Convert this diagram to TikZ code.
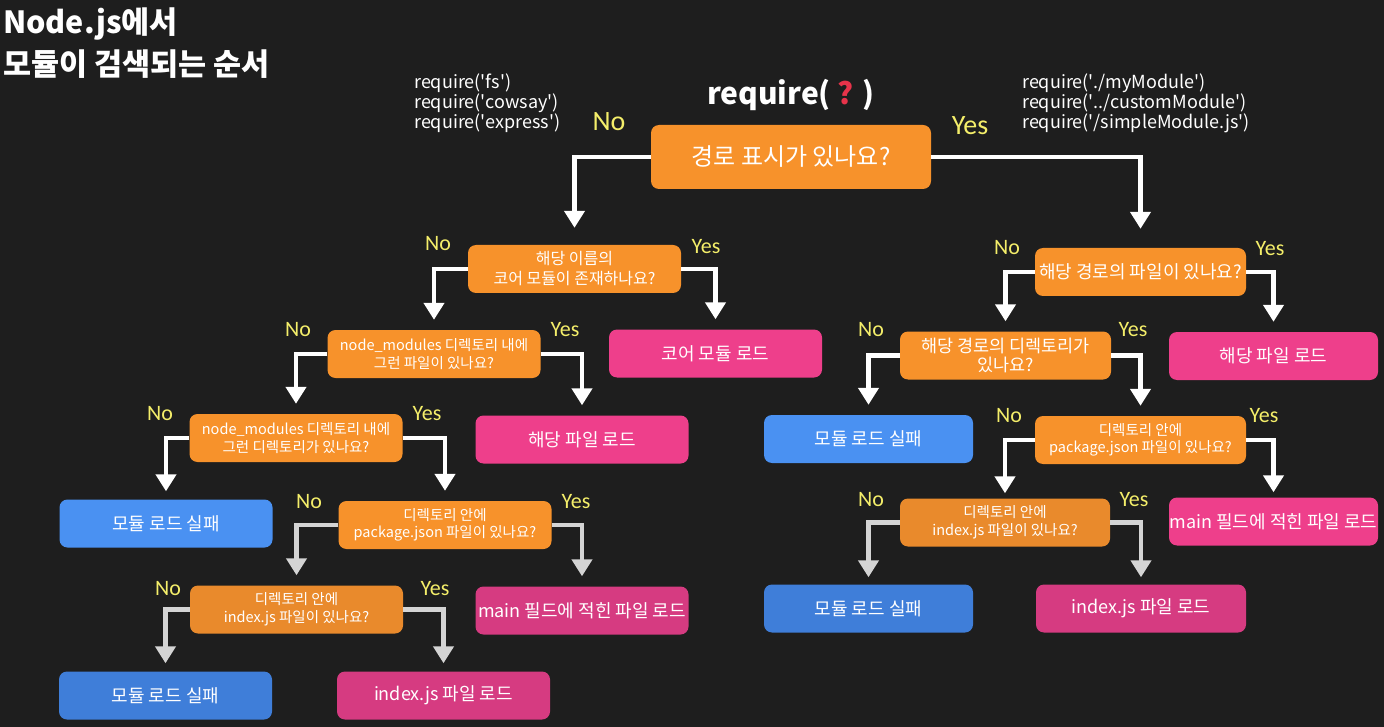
\documentclass[tikz,border=0pt]{standalone}
\usepackage{fontspec}
\setmainfont{Noto Sans CJK KR}
\newfontfamily\lblfont{Carlito}
\usetikzlibrary{arrows.meta}
\definecolor{bg}{HTML}{1E1E1E}
\definecolor{org}{HTML}{F7922B}
\definecolor{orgd}{HTML}{E98A2C}
\definecolor{pnk}{HTML}{EE3F8B}
\definecolor{pnkd}{HTML}{D63B81}
\definecolor{blu}{HTML}{4A91F2}
\definecolor{blud}{HTML}{3F7ED9}
\definecolor{ylw}{HTML}{F4EE6A}
\definecolor{qred}{HTML}{E8334A}
\definecolor{gry}{HTML}{D4D4D4}
\newcommand\myq{\textquotesingle}
\begin{document}
\begin{tikzpicture}[x=1pt,y=-1pt,
  box/.style={rounded corners=8pt, text=white, align=center, inner sep=0pt,
    minimum width=213pt, minimum height=48pt},
  qbox/.style={box, fill=org, font=\fontsize{14.5}{17.5}\selectfont},
  pbox/.style={box, fill=pnk, font=\fontsize{18}{22}\selectfont},
  bbox/.style={box, fill=blu, font=\fontsize{18}{22}\selectfont},
  arr/.style={draw=white, line width=4.5pt, -{Triangle[width=20pt,length=17pt]}, shorten >=10pt},
  garr/.style={arr, draw=gry},
  lbl/.style={text=ylw, font=\lblfont\fontsize{22}{26}\selectfont},
  blbl/.style={text=ylw, font=\lblfont\fontsize{28}{32}\selectfont},
  code/.style={text=white, anchor=north west, align=left, inner sep=0pt, font=\fontsize{18}{20}\selectfont}
]
\useasboundingbox[fill=bg] (0,0) rectangle (1384,727);

% title
\node[anchor=north west, align=left, inner sep=0pt, text=white,
  font=\bfseries\fontsize{30.5}{42}\selectfont] (title) at (3,8) {Node.js에서\\모듈이 검색되는 순서};

\node[text=white, font=\bfseries\fontsize{30}{36}\selectfont] (req) at (791,95) {require( {\color{qred}?} )};
\node[code] (reqL) at (414,74) {require(\myq fs\myq)\\require(\myq cowsay\myq)\\require(\myq express\myq)};
\node[code] (reqR) at (1022,74) {require(\myq./myModule\myq)\\require(\myq../customModule\myq)\\require(\myq/simpleModule.js\myq)};

% boxes
\node[box, fill=org, minimum width=280pt, minimum height=64pt, font=\fontsize{24}{28}\selectfont] (A) at (791,157) {경로 표시가 있나요?};
\node[qbox, font=\fontsize{16}{20}\selectfont] (B) at (574.5,269) {해당 이름의\\코어 모듈이 존재하나요?};
\node[qbox] (C) at (434,354) {node\_modules 디렉토리 내에\\그런 파일이 있나요?};
\node[pbox] (D) at (715.5,353.5) {코어 모듈 로드};
\node[qbox] (E) at (296,438) {node\_modules 디렉토리 내에\\그런 디렉토리가 있나요?};
\node[pbox] (F) at (582,439.5) {해당 파일 로드};
\node[bbox] (G) at (166,523.5) {모듈 로드 실패};
\node[qbox] (H) at (445,525) {디렉토리 안에\\package.json 파일이 있나요?};
\node[qbox, fill=orgd] (I) at (296.5,609.5) {디렉토리 안에\\index.js 파일이 있나요?};
\node[pbox, fill=pnkd] (J) at (582,610.5) {main 필드에 적힌 파일 로드};
\node[bbox, fill=blud] (K) at (165.5,695.5) {모듈 로드 실패};
\node[pbox, fill=pnkd] (L) at (443.5,695.5) {index.js 파일 로드};

\node[qbox, minimum width=211pt, font=\fontsize{18}{21}\selectfont] (M) at (1140.5,272) {해당 경로의 파일이 있나요?};
\node[qbox, minimum width=211pt, font=\fontsize{17.5}{19}\selectfont] (N) at (1005.5,355.5) {해당 경로의 디렉토리가\\있나요?};
\node[pbox, minimum width=209pt] (O) at (1273.5,356) {해당 파일 로드};
\node[bbox, minimum width=209pt] (P) at (868.5,439) {모듈 로드 실패};
\node[qbox, minimum width=211pt] (Q) at (1140.5,440) {디렉토리 안에\\package.json 파일이 있나요?};
\node[qbox, fill=orgd, minimum width=210pt] (R) at (1005,522.5) {디렉토리 안에\\index.js 파일이 있나요?};
\node[pbox, minimum width=209pt] (S) at (1273.5,521.5) {main 필드에 적힌 파일 로드};
\node[bbox, fill=blud, minimum width=209pt] (T) at (868.5,608.5) {모듈 로드 실패};
\node[pbox, fill=pnkd, minimum width=210pt] (U) at (1141,608.5) {index.js 파일 로드};

% connectors
\draw[arr, shorten >=17pt] (A.west) -| (B.north);
\draw[arr, shorten >=19pt] (A.east) -| (M.north);
\draw[arr] (B.west) -| (C.north);
\draw[arr] (B.east) -| (D.north);
\draw[arr] (C.west) -| (E.north);
\draw[arr] (C.east) -| (F.north);
\draw[arr, shorten >=8pt] (E.west) -| (G.north);
\draw[arr] (E.east) -| (H.north);
\draw[garr] (H.west) -| (I.north);
\draw[garr] (H.east) -| (J.north);
\draw[garr, shorten >=8pt] (I.west) -| (K.north);
\draw[garr, shorten >=8pt] (I.east) -| (L.north);
\draw[arr] (M.west) -| (N.north);
\draw[arr] (M.east) -| (O.north);
\draw[arr] (N.west) -| (P.north);
\draw[arr] (N.east) -| (Q.north);
\draw[arr, shorten >=5pt] (Q.west) -| (R.north);
\draw[arr, shorten >=5pt] (Q.east) -| (S.north);
\draw[garr, shorten >=7pt] (R.west) -| (T.north);
\draw[garr, shorten >=7pt] (R.east) -| (U.north);

% yes/no labels
\node[blbl] (nA) at (609,122) {No};
\node[blbl] (yA) at (970,126) {Yes};
\node[lbl] (nB) at (438,244) {No};
\node[lbl] (yB) at (706,247) {Yes};
\node[lbl] (nC) at (298,330) {No};
\node[lbl] (yC) at (565,330) {Yes};
\node[lbl] (nE) at (160,414) {No};
\node[lbl] (yE) at (427,414) {Yes};
\node[lbl] (nH) at (309,502) {No};
\node[lbl] (yH) at (576,502) {Yes};
\node[lbl] (nI) at (168,589) {No};
\node[lbl] (yI) at (435,589) {Yes};
\node[lbl] (nM) at (1007,248) {No};
\node[lbl] (yM) at (1270,249) {Yes};
\node[lbl] (nN) at (871,330) {No};
\node[lbl] (yN) at (1133,330) {Yes};
\node[lbl] (nQ) at (1009,416) {No};
\node[lbl] (yQ) at (1264,416) {Yes};
\node[lbl] (nR) at (871,500) {No};
\node[lbl] (yR) at (1134,500) {Yes};
\end{tikzpicture}
\end{document}
